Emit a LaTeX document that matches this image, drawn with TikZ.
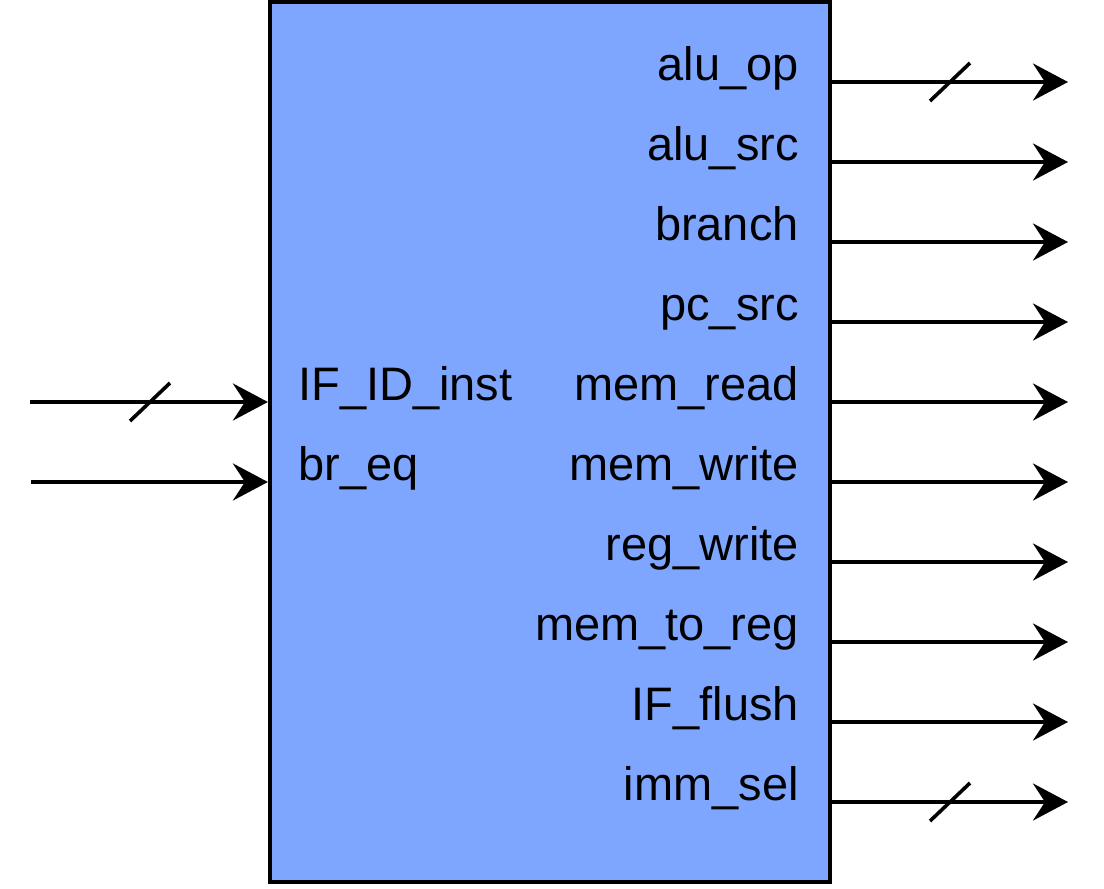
\documentclass[tikz,border=0pt]{standalone}
\usepackage{fontspec}
\setmainfont{Liberation Sans}
\usetikzlibrary{arrows.meta}

\begin{document}
\begin{tikzpicture}[x=0.025cm, y=-0.025cm,
    unit/.style={rectangle, draw, line width=0.1cm, fill={rgb,255:red,127;green,166;blue,255}, minimum width=14cm, minimum height=22cm, inner sep=0pt},
    sig/.style={font=\fontsize{33.4}{40}\selectfont, inner sep=0pt},
    wire/.style={line width=0.09cm, -{Stealth[length=0.875cm, width=0.925cm, inset=0.3cm]}},
    bus/.style={line width=0.09cm}]

    \useasboundingbox (0,0) rectangle (1104,888);

    % Control unit
    \node[unit] (ctrl) at (550,442) {};

    % Inputs
    \coordinate (inst) at (30,402);
    \coordinate (eq) at (31,482);
    \node[sig, anchor=base west] (linst) at (298,400) {IF\_ID\_inst};
    \node[sig, anchor=base west] (leq) at (298,480) {br\_eq};
    \draw[wire] (inst) -- (inst -| ctrl.west);
    \draw[wire] (eq) -- (eq -| ctrl.west);
    \draw[bus] (130,421) -- (170,383);

    % Outputs
    \foreach \name [count=\i from 0] in {alu\_op, alu\_src, branch, pc\_src, mem\_read, mem\_write, reg\_write, mem\_to\_reg, IF\_flush, imm\_sel} {
        \coordinate (out\i) at (1068,82+80*\i);
        \node[sig, anchor=base east] (l\i) at (799,80+80*\i) {\name};
        \draw[wire] (out\i -| ctrl.east) -- (out\i);
    }
    \draw[bus] (930,101) -- (970,63);
    \draw[bus] (930,821) -- (970,783);
\end{tikzpicture}
\end{document}
